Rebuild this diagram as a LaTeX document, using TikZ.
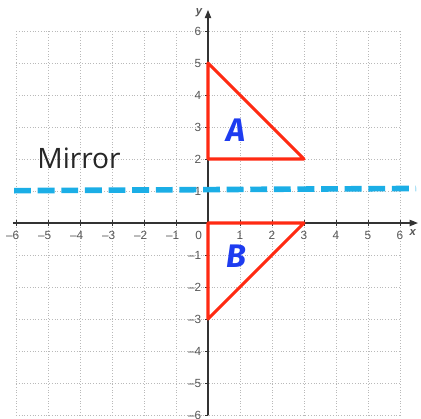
\documentclass[tikz,border=0pt]{standalone}
\usepackage{fontspec}
\setmainfont{Liberation Sans}
\newfontfamily\mirrorfont{Open Sans}
\newfontfamily\handfont{Fira Sans}
\usetikzlibrary{arrows.meta, positioning}
\definecolor{cred}{HTML}{FF2A12}
\definecolor{cblue}{HTML}{1E3CF0}
\definecolor{ccyan}{HTML}{1BAEE6}
\definecolor{cgrey}{HTML}{555555}
\definecolor{caxis}{HTML}{333333}
\tikzset{
  every picture/.style={line width=0.9pt},
  gridline/.style={draw=gray!55, line width=0.45pt, dotted},
  axisline/.style={draw=caxis, line width=1pt, -{Triangle[length=2.6mm, width=2mm]}},
  tickmark/.style={draw=caxis, line width=0.8pt},
  ticklabel/.style={font=\fontsize{10.5}{12}\selectfont, text=cgrey, inner sep=1pt},
  tri/.style={draw=cred, line width=2.7pt, line join=round},
  tlabel/.style={font=\handfont\bfseries\itshape\fontsize{29}{31}\selectfont, text=cblue},
  mirrorline/.style={draw=ccyan, line width=5pt, dash pattern=on 15pt off 6pt},
}

\begin{document}
\begin{tikzpicture}[x=1cm, y=1cm]
  \useasboundingbox (-6.5,-6.094) rectangle (6.656,6.969);
  % grid
  \foreach \k in {-6,...,6} {
    \draw[gridline] (\k,-6) -- (\k,6);
    \draw[gridline] (-6,\k) -- (6,\k);
  }
  % axes
  \coordinate (xs) at (-6.1,0); \coordinate (xe) at (6.56,0);
  \coordinate (ys) at (0,-6); \coordinate (ye) at (0,6.66);
  \draw[axisline] (xs) -- (xe);
  \draw[axisline] (ys) -- (ye);
  \node[ticklabel, font=\bfseries\itshape\fontsize{10}{12}\selectfont] (xname) at (6.4,-0.31) {x};
  \node[ticklabel, font=\bfseries\itshape\fontsize{10}{12}\selectfont] (yname) at (-0.28,6.56) {y};
  \foreach \k in {1,...,6} {
    \draw[tickmark] (\k,-0.08) -- (\k,0.08);
    \draw[tickmark] (-\k,-0.08) -- (-\k,0.08);
    \draw[tickmark] (-0.1,\k) -- (0,\k);
    \draw[tickmark] (-0.1,-\k) -- (0,-\k);
    \node[ticklabel, anchor=north] (xp\k) at (\k,-0.2) {\k};
    \node[ticklabel, anchor=north] (xn\k) at (-\k,-0.2) {\llap{–}\k};
    \node[ticklabel, anchor=east] (yp\k) at (-0.16,\k) {\k};
    \node[ticklabel, anchor=east] (yn\k) at (-0.16,-\k) {–\k};
  }
  \node[ticklabel, anchor=north east] (zero) at (-0.14,-0.2) {0};
  % triangles
  \coordinate (a1) at (0,5); \coordinate (a2) at (0,2); \coordinate (a3) at (3,2);
  \coordinate (b1) at (0,0); \coordinate (b2) at (3,0); \coordinate (b3) at (0,-3);
  \draw[tri] (a1) -- (a2) -- (a3) -- cycle;
  \draw[tri] (b1) -- (b2) -- (b3) -- cycle;
  \node[tlabel] (labA) at (0.875,2.9) {A};
  \node[tlabel] (labB) at (0.875,-1.03) {B};
  % mirror
  \coordinate (mL) at (-6.06,1.01); \coordinate (mR) at (6.5,1.08);
  \draw[mirrorline] (mL) -- (mR);
  \node[font=\mirrorfont\fontsize{25}{28}\selectfont, text=black!85] (mirrortext) at (-4.03,2.03) {Mirror};
\end{tikzpicture}
\end{document}
